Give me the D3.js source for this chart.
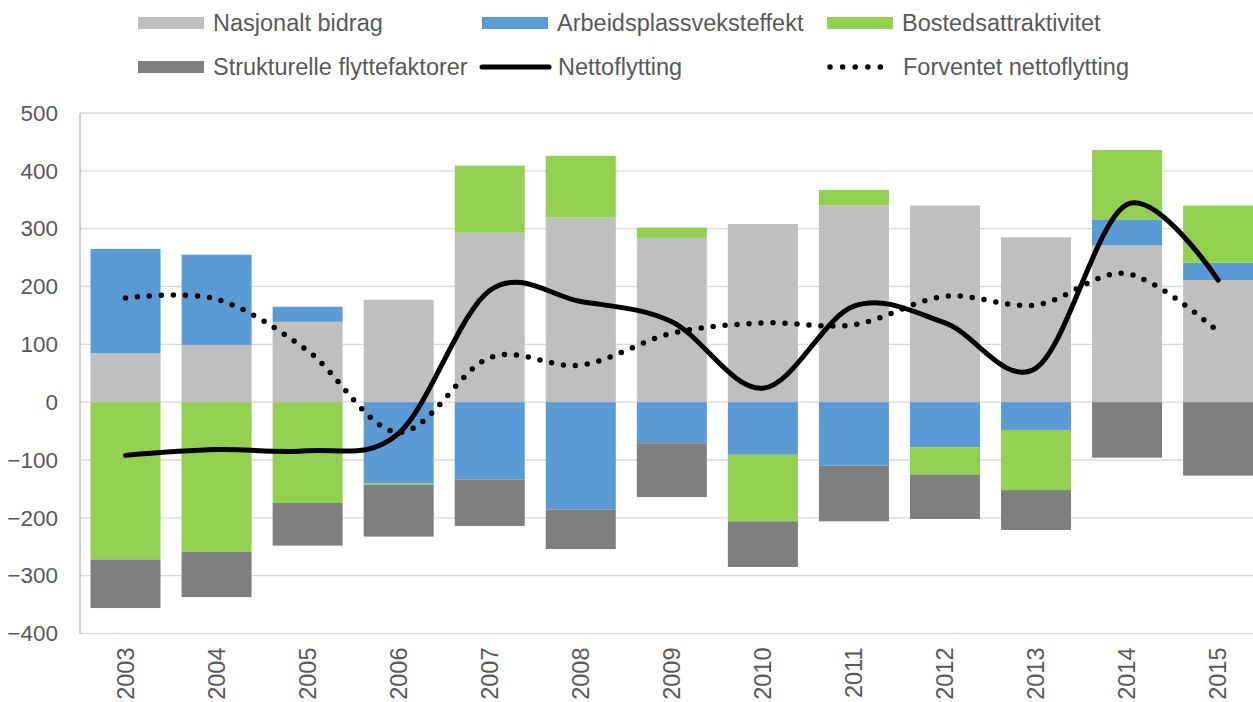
<!DOCTYPE html>
<html>
<head>
<meta charset="utf-8">
<script src="https://cdn.jsdelivr.net/npm/d3@7"></script>
<style>
  html, body { margin: 0; padding: 0; background: #ffffff; }
  svg { display: block; font-family: "Liberation Sans", Arial, sans-serif; }
</style>
</head>
<body>
<svg id="chart" width="1253" height="702"></svg>
<script>
// ---- data ----
const years = ["2003","2004","2005","2006","2007","2008","2009","2010","2011","2012","2013","2014","2015"];
const nasjonaltBidrag = [85, 99, 139, 177, 293, 319, 284, 308, 340, 340, 285, 271, 211];
const arbeidsplassveksteffekt = [180, 156, 26, -140, -134, -186, -71, -91, -110, -78, -48, 45, 30];
const bostedsattraktivitet = [-272, -259, -174, -2.5, 116, 107, 18, -115, 27, -47, -104, 120, 99];
const strukturelleFlyttefaktorer = [-84, -78, -74, -90, -80, -68, -93, -79, -96, -77, -69, -96, -127];
const nettoflytting = [-92, -82, -84, -54, 193, 174, 139, 24, 166, 137, 59, 342, 211];
const forventetNettoflytting = [180, 178, 89, -52, 77, 64, 119, 137, 134, 183, 168, 222, 122];
const yTicks = [-400, -300, -200, -100, 0, 100, 200, 300, 400, 500];

const barSeries = [
  { key: "Nasjonalt bidrag", values: nasjonaltBidrag, color: "#bfbfbf" },
  { key: "Arbeidsplassveksteffekt", values: arbeidsplassveksteffekt, color: "#5b9bd5" },
  { key: "Bostedsattraktivitet", values: bostedsattraktivitet, color: "#92d050" },
  { key: "Strukturelle flyttefaktorer", values: strukturelleFlyttefaktorer, color: "#7f7f7f" }
];

const rows = years.map((y, i) => {
  const r = { year: y };
  barSeries.forEach(s => r[s.key] = s.values[i]);
  return r;
});

// ---- layout ----
const svg = d3.select("#chart");
const plotLeft = 80, step = 91.05;
const plotRight = plotLeft + step * years.length;
const yTop = 113, yBottom = 633.5;
const textColor = "#595959";

const x = d3.scaleBand().domain(years).range([plotLeft, plotRight])
  .paddingInner(0.231).paddingOuter(0.1155);
const y = d3.scaleLinear().domain([-400, 500]).range([yBottom, yTop]);

// gridlines
svg.append("g").selectAll("line").data(yTicks).join("line")
  .attr("x1", plotLeft).attr("x2", plotRight)
  .attr("y1", d => y(d)).attr("y2", d => y(d))
  .attr("stroke", "#d9d9d9").attr("stroke-width", 1.3);

// left axis line
svg.append("line").attr("x1", plotLeft).attr("x2", plotLeft)
  .attr("y1", y(500)).attr("y2", y(-400))
  .attr("stroke", "#bfbfbf").attr("stroke-width", 1.5);

// y axis labels
const yAxis = svg.append("g").attr("transform", `translate(${plotLeft},0)`)
  .call(d3.axisLeft(y).tickValues(yTicks).tickSize(0).tickPadding(22).tickFormat(d3.format("d")));
yAxis.select(".domain").remove();
yAxis.selectAll("text").attr("fill", textColor).style("font-size", "22.5px")
  .style("font-family", "'Liberation Sans', Arial, sans-serif");

// stacked bars
const stack = d3.stack().keys(barSeries.map(s => s.key)).offset(d3.stackOffsetDiverging);
const stacked = stack(rows);
svg.append("g").selectAll("g").data(stacked).join("g")
  .attr("fill", (d, i) => barSeries[i].color)
  .selectAll("rect").data(d => d).join("rect")
  .attr("x", d => x(d.data.year))
  .attr("width", x.bandwidth())
  .attr("y", d => y(Math.max(d[0], d[1])))
  .attr("height", d => Math.abs(y(d[0]) - y(d[1])));

// x axis labels
const xAxis = svg.append("g").attr("transform", `translate(0,${yBottom})`)
  .call(d3.axisBottom(x).tickSize(0).tickPadding(0));
xAxis.select(".domain").remove();
xAxis.selectAll("text")
  .attr("fill", textColor).style("font-size", "23.5px")
  .style("font-family", "'Liberation Sans', Arial, sans-serif")
  .attr("text-anchor", "end")
  .attr("transform", "rotate(-90)")
  .attr("x", -14).attr("y", 0).attr("dy", "0.35em");

// lines
const line = d3.line()
  .x((d, i) => x(years[i]) + x.bandwidth() / 2)
  .y(d => y(d))
  .curve(d3.curveCardinal.tension(0));

svg.append("path").datum(forventetNettoflytting)
  .attr("d", line).attr("fill", "none")
  .attr("stroke", "#000").attr("stroke-width", 5.5)
  .attr("stroke-linecap", "round").attr("stroke-dasharray", "0 12");

svg.append("path").datum(nettoflytting)
  .attr("d", line).attr("fill", "none")
  .attr("stroke", "#000").attr("stroke-width", 5)
  .attr("stroke-linecap", "round");

// legend
const legendItems = [
  { label: "Nasjonalt bidrag", type: "rect", color: "#bfbfbf", x: 138, y: 23 },
  { label: "Arbeidsplassveksteffekt", type: "rect", color: "#5b9bd5", x: 482, y: 23 },
  { label: "Bostedsattraktivitet", type: "rect", color: "#92d050", x: 827, y: 23 },
  { label: "Strukturelle flyttefaktorer", type: "rect", color: "#7f7f7f", x: 138, y: 67 },
  { label: "Nettoflytting", type: "line", color: "#000", x: 482, y: 67 },
  { label: "Forventet nettoflytting", type: "dot", color: "#000", x: 827, y: 67 }
];
const lg = svg.append("g").selectAll("g").data(legendItems).join("g")
  .attr("transform", d => `translate(${d.x},${d.y})`);
lg.filter(d => d.type === "rect").append("rect")
  .attr("x", 0).attr("y", -6).attr("width", 66).attr("height", 12)
  .attr("fill", d => d.color);
lg.filter(d => d.type === "line").append("line")
  .attr("x1", 0).attr("x2", 67).attr("y1", 0).attr("y2", 0)
  .attr("stroke", "#000").attr("stroke-width", 5).attr("stroke-linecap", "round");
lg.filter(d => d.type === "dot").append("line")
  .attr("x1", 3).attr("x2", 66).attr("y1", 0).attr("y2", 0)
  .attr("stroke", "#000").attr("stroke-width", 5.5).attr("stroke-linecap", "round")
  .attr("stroke-dasharray", "0 12.6");
lg.append("text")
  .attr("x", d => d.type === "rect" ? 75 : 76).attr("y", 0).attr("dy", "0.35em")
  .attr("fill", textColor).style("font-size", "23.5px")
  .text(d => d.label);
</script>
</body>
</html>
